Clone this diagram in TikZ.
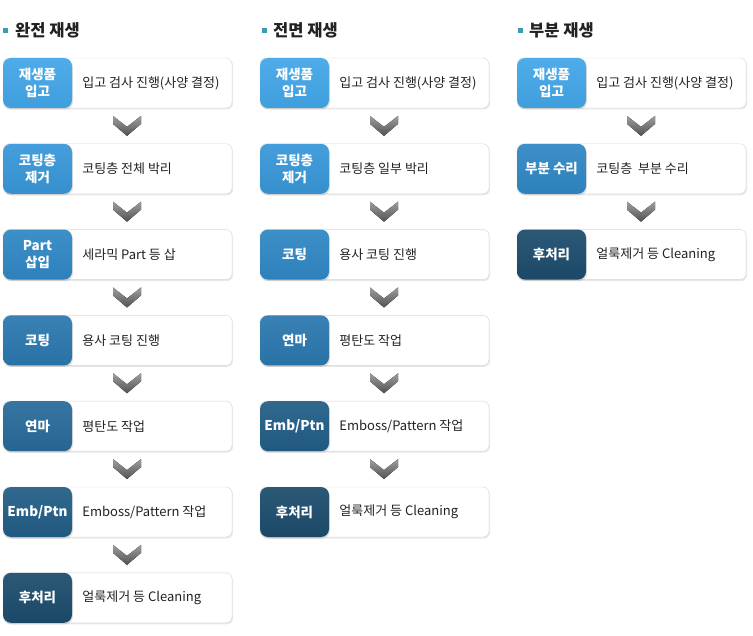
\documentclass[tikz,border=0pt]{standalone}
\usepackage{fontspec}
\setmainfont{Noto Sans CJK KR}
\usetikzlibrary{calc,shadows}
\definecolor{ink}{HTML}{222222}
\definecolor{cardline}{HTML}{D6D6D6}
\definecolor{bullet}{HTML}{3A9CB0}
\definecolor{stepA}{HTML}{42A6E8}
\definecolor{stepB}{HTML}{3797D8}
\definecolor{stepC}{HTML}{2F87C4}
\definecolor{stepD}{HTML}{2B78AF}
\definecolor{stepE}{HTML}{286A9A}
\definecolor{stepF}{HTML}{225D86}
\definecolor{stepG}{HTML}{1C4C6C}
\tikzset{
  card/.style={draw=cardline, fill=white, rounded corners=6pt, minimum width=229pt,
    minimum height=50pt, drop shadow={shadow xshift=1pt, shadow yshift=-1.5pt, opacity=.18}},
  tag/.style={anchor=west, rounded corners=8pt, minimum width=69pt, minimum height=50pt,
    inner sep=0pt, top color=#1!93!white, bottom color=#1!95!black, text=white, align=center,
    font=\fontsize{13.5}{17}\selectfont\bfseries,
    drop shadow={shadow xshift=1pt, shadow yshift=-1.5pt, opacity=.25}},
  note/.style={anchor=west, inner sep=0pt, text=ink, font=\fontsize{13}{15}\selectfont},
  head/.style={anchor=west, inner sep=0pt, text=ink, font=\fontsize{16.5}{19}\selectfont\bfseries},
  chevron/.pic={\fill[top color=black!38, bottom color=black!68]
    (-14,-10) -- (0,1) -- (14,-10) -- (14,-2) -- (0,10) -- (-14,-2) -- cycle;}
}
\begin{document}
\begin{tikzpicture}[x=1pt,y=-1pt]
\useasboundingbox (0,0) rectangle (753,636);
% headings
\fill[bullet] (3,28) rectangle (8,33);
\node[head] (fullhead) at (15,30) {완전 재생};
\fill[bullet] (262,28) rectangle (267,33);
\node[head] (wholehead) at (273,30) {전면 재생};
\fill[bullet] (518,28) rectangle (523,33);
\node[head] (parthead) at (529,30) {부분 재생};
% 완전 재생
\node[card] (f1) at (117.5,83) {};
\node[tag=stepA] (f1t) at (f1.west) {재생품\\입고};
\node[note] at ($(f1t.east)+(10,0)$) {입고 검사 진행(사양 결정)};
\node[card] (f2) at (117.5,168.8) {};
\node[tag=stepB] (f2t) at (f2.west) {코팅층\\제거};
\node[note] at ($(f2t.east)+(10,0)$) {코팅층 전체 박리};
\node[card] (f3) at (117.5,254.6) {};
\node[tag=stepC] (f3t) at (f3.west) {Part\\삽입};
\node[note] at ($(f3t.east)+(10,0)$) {세라믹 Part 등 삽};
\node[card] (f4) at (117.5,340.4) {};
\node[tag=stepD] (f4t) at (f4.west) {코팅};
\node[note] at ($(f4t.east)+(10,0)$) {용사 코팅 진행};
\node[card] (f5) at (117.5,426.2) {};
\node[tag=stepE] (f5t) at (f5.west) {연마};
\node[note] at ($(f5t.east)+(10,0)$) {평탄도 작업};
\node[card] (f6) at (117.5,512) {};
\node[tag=stepF] (f6t) at (f6.west) {Emb/Ptn};
\node[note] at ($(f6t.east)+(10,0)$) {Emboss/Pattern 작업};
\node[card] (f7) at (117.5,597.8) {};
\node[tag=stepG] (f7t) at (f7.west) {후처리};
\node[note] at ($(f7t.east)+(10,0)$) {얼룩제거 등 Cleaning};
\pic at ($(f1.south)!.5!(f2.north)+(9.5,0)$) {chevron};
\pic at ($(f2.south)!.5!(f3.north)+(9.5,0)$) {chevron};
\pic at ($(f3.south)!.5!(f4.north)+(9.5,0)$) {chevron};
\pic at ($(f4.south)!.5!(f5.north)+(9.5,0)$) {chevron};
\pic at ($(f5.south)!.5!(f6.north)+(9.5,0)$) {chevron};
\pic at ($(f6.south)!.5!(f7.north)+(9.5,0)$) {chevron};
% 전면 재생
\node[card] (w1) at (374.5,83) {};
\node[tag=stepA] (w1t) at (w1.west) {재생품\\입고};
\node[note] at ($(w1t.east)+(10,0)$) {입고 검사 진행(사양 결정)};
\node[card] (w2) at (374.5,168.8) {};
\node[tag=stepB] (w2t) at (w2.west) {코팅층\\제거};
\node[note] at ($(w2t.east)+(10,0)$) {코팅층 일부 박리};
\node[card] (w3) at (374.5,254.6) {};
\node[tag=stepC] (w3t) at (w3.west) {코팅};
\node[note] at ($(w3t.east)+(10,0)$) {용사 코팅 진행};
\node[card] (w4) at (374.5,340.4) {};
\node[tag=stepD] (w4t) at (w4.west) {연마};
\node[note] at ($(w4t.east)+(10,0)$) {평탄도 작업};
\node[card] (w5) at (374.5,426.2) {};
\node[tag=stepF] (w5t) at (w5.west) {Emb/Ptn};
\node[note] at ($(w5t.east)+(10,0)$) {Emboss/Pattern 작업};
\node[card] (w6) at (374.5,512) {};
\node[tag=stepG] (w6t) at (w6.west) {후처리};
\node[note] at ($(w6t.east)+(10,0)$) {얼룩제거 등 Cleaning};
\pic at ($(w1.south)!.5!(w2.north)+(9.5,0)$) {chevron};
\pic at ($(w2.south)!.5!(w3.north)+(9.5,0)$) {chevron};
\pic at ($(w3.south)!.5!(w4.north)+(9.5,0)$) {chevron};
\pic at ($(w4.south)!.5!(w5.north)+(9.5,0)$) {chevron};
\pic at ($(w5.south)!.5!(w6.north)+(9.5,0)$) {chevron};
% 부분 재생
\node[card] (p1) at (631.5,83) {};
\node[tag=stepA] (p1t) at (p1.west) {재생품\\입고};
\node[note] at ($(p1t.east)+(10,0)$) {입고 검사 진행(사양 결정)};
\node[card] (p2) at (631.5,168.8) {};
\node[tag=stepC] (p2t) at (p2.west) {부분 수리};
\node[note] at ($(p2t.east)+(10,0)$) {코팅층\ \ 부분 수리};
\node[card] (p3) at (631.5,254.6) {};
\node[tag=stepG] (p3t) at (p3.west) {후처리};
\node[note] at ($(p3t.east)+(10,0)$) {얼룩제거 등 Cleaning};
\pic at ($(p1.south)!.5!(p2.north)+(9.5,0)$) {chevron};
\pic at ($(p2.south)!.5!(p3.north)+(9.5,0)$) {chevron};
\end{tikzpicture}
\end{document}
